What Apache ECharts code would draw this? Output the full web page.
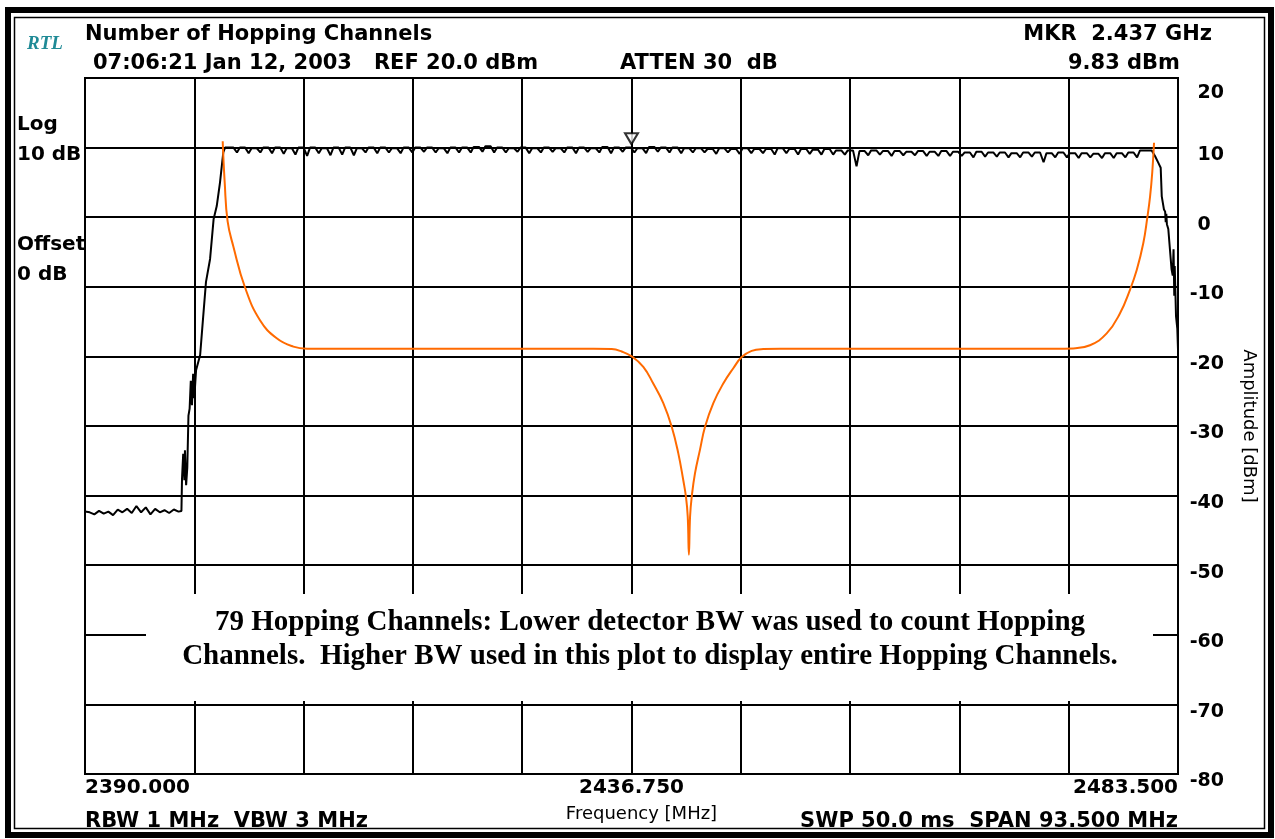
<!DOCTYPE html>
<html>
<head>
<meta charset="utf-8">
<title>Number of Hopping Channels</title>
<script src="https://cdn.jsdelivr.net/npm/echarts@6/dist/echarts.min.js"></script>
<style>
  html, body { margin: 0; padding: 0; background: #ffffff; }
  #chart { width: 1275px; height: 839px; }
</style>
</head>
<body>
<div id="chart"></div>
<script>
// Sweep settings of the analyzer
const START_MHZ = 2390.0;
const STOP_MHZ = 2483.5;
const DIV_MHZ = 9.35;          // span / 10 divisions
const REF_DBM = 20;
const BOTTOM_DBM = -80;
const DB_PER_DIV = 10;

// Noise floor below the band (MHz / dBm)
const floorMHz = [2390.0, 2390.4, 2390.8, 2391.2, 2391.6, 2392.0, 2392.4, 2392.8, 2393.2, 2393.6,
                  2394.0, 2394.4, 2394.8, 2395.2, 2395.6, 2396.0, 2396.4, 2396.8, 2397.2, 2397.6,
                  2398.0, 2398.25];
const floorDbm = [-42.3, -42.4, -42.7, -42.2, -42.6, -42.3, -42.8, -42.0, -42.4, -41.9,
                  -42.5, -41.5, -42.4, -41.7, -42.7, -41.9, -42.4, -42.1, -42.5, -42.0,
                  -42.3, -42.2];

// Lower band edge
const riseMHz = [2398.3, 2398.4, 2398.5, 2398.55, 2398.65, 2398.75, 2398.85, 2398.95, 2399.05, 2399.15,
                 2399.25, 2399.35, 2399.5, 2399.85, 2400.1, 2400.35, 2400.7, 2401.0, 2401.27, 2401.55,
                 2401.83, 2401.98];
const riseDbm = [-37.5, -34.0, -37.8, -33.5, -38.5, -36.0, -28.5, -27.5, -23.5, -27.0,
                 -22.5, -26.0, -22.0, -19.8, -14.5, -9.3, -6.0, -0.3, 1.6, 5.0,
                 9.3, 10.0];

// Notches between the 79 hopping channels (1 MHz grid)
const notchMHz = [2403, 2404, 2405, 2406, 2407, 2408, 2409, 2410, 2411, 2412,
                  2413, 2414, 2415, 2416, 2417, 2418, 2419, 2420, 2421, 2422,
                  2423, 2424, 2425, 2426, 2427, 2428, 2429, 2430, 2431, 2432,
                  2433, 2434, 2435, 2436, 2437, 2438, 2439, 2440, 2441, 2442,
                  2443, 2444, 2445, 2446, 2447, 2448, 2449, 2450, 2451, 2452,
                  2453, 2454, 2455, 2456, 2457, 2458, 2459, 2460, 2461, 2462,
                  2463, 2464, 2465, 2466, 2467, 2468, 2469, 2470, 2471, 2472,
                  2473, 2474, 2475, 2476, 2477, 2478, 2479, 2480];
// Level on each channel (2402 ... 2480 MHz)
const crestDbm = [10.0, 10.0, 9.9, 10.0, 10.0, 9.9, 10.0, 10.0, 9.9, 10.0,
                  10.0, 9.9, 10.0, 10.0, 9.9, 10.0, 10.0, 10.0, 9.9, 10.0,
                  10.0, 10.1, 10.2, 10.0, 9.9, 10.0, 9.9, 10.0, 9.9, 10.0,
                  10.0, 9.9, 10.1, 10.0, 10.0, 9.9, 10.1, 10.0, 10.0, 9.9,
                  9.9, 9.8, 9.9, 9.8, 9.9, 9.8, 9.8, 9.9, 9.8, 9.8,
                  9.7, 9.8, 9.6, 9.6, 9.5, 9.6, 9.5, 9.5, 9.4, 9.5,
                  9.4, 9.5, 9.4, 9.3, 9.4, 9.3, 9.3, 9.2, 9.3, 9.3,
                  9.2, 9.3, 9.2, 9.2, 9.1, 9.2, 9.2, 9.3, 9.6];
// Depth of each notch
const notchDbm = [9.3, 9.2, 9.3, 9.2, 9.1, 9.0, 8.8, 9.2, 8.9, 9.0,
                  8.9, 9.3, 9.2, 9.3, 9.2, 9.3, 9.4, 9.3, 9.2, 9.3,
                  9.3, 9.4, 9.3, 9.3, 9.4, 9.2, 9.3, 9.4, 9.3, 9.2,
                  9.4, 9.3, 9.2, 9.4, 9.3, 9.2, 9.4, 9.3, 9.2, 9.3,
                  9.3, 9.1, 9.3, 9.1, 9.2, 9.2, 9.0, 9.2, 9.0, 9.1,
                  9.0, 9.0, 9.0, 7.3, 8.9, 9.0, 8.8, 8.9, 8.9, 8.8,
                  8.8, 8.8, 8.8, 8.6, 8.7, 8.7, 8.6, 8.6, 8.7, 7.9,
                  8.6, 8.6, 8.5, 8.6, 8.5, 8.5, 8.6, 8.6];

// Upper band edge
const fallMHz = [2481.25, 2481.4, 2481.53, 2481.82, 2482.02, 2482.11, 2482.3, 2482.4, 2482.45, 2482.5,
                 2482.55, 2482.67, 2482.81, 2482.95, 2483.05, 2483.12, 2483.18, 2483.22, 2483.33, 2483.44,
                 2483.5];
const fallDbm = [9.6, 9.4, 8.8, 7.8, 7.1, 3.0, 1.1, 0.8, -0.7, 0.5,
                 -1.0, -1.7, -4.6, -7.5, -8.4, -4.6, -11.3, -7.0, -14.2, -16.0,
                 -19.0];

// Display line (orange)
const limitMHz = [2401.78, 2401.95, 2402.2, 2402.69, 2403.69, 2404.97, 2406.4, 2407.82, 2409.0, 2420.0,
                  2433.5, 2435.06, 2435.91, 2436.77, 2437.76, 2438.61, 2439.47, 2440.19, 2440.75, 2441.18,
                  2441.41, 2441.56, 2441.66, 2441.76, 2441.9, 2442.18, 2442.61, 2443.04, 2443.75, 2444.6,
                  2445.46, 2446.18, 2447.03, 2448.02, 2449.5, 2460.0, 2473.0, 2474.54, 2475.97, 2477.4,
                  2478.54, 2479.4, 2479.97, 2480.53, 2480.88, 2481.11, 2481.3, 2481.45];
const limitDbm = [10.9, 5.0, -0.6, -4.2, -10.1, -14.8, -17.4, -18.6, -18.9, -18.9,
                  -18.9, -18.95, -19.3, -20.0, -21.5, -23.9, -26.7, -30.1, -33.9, -37.8,
                  -40.2, -43.0, -48.5, -43.0, -40.2, -36.8, -33.4, -30.1, -26.7, -23.9,
                  -21.7, -20.1, -19.2, -18.95, -18.9, -18.9, -18.9, -18.85, -18.4, -16.7,
                  -13.8, -10.4, -7.6, -3.75, 0.0, 2.95, 6.5, 10.7];

// Marker readout
const markerMHz = 2436.75;
const markerDbm = 9.83;

// Header / footer annotations
const titleText = 'Number of Hopping Channels';
const stampText = '07:06:21 Jan 12, 2003   REF 20.0 dBm';
const attenText = 'ATTEN 30  dB';
const mkrFreqText = 'MKR  2.437 GHz';
const mkrLevelText = '9.83 dBm';
const bwText = 'RBW 1 MHz  VBW 3 MHz';
const sweepText = 'SWP 50.0 ms  SPAN 93.500 MHz';
const noteText = '79 Hopping Channels: Lower detector BW was used to count Hopping\nChannels.  Higher BW used in this plot to display entire Hopping Channels.';

// ---- build the series (x is offset from start frequency) ----
const toPts = (mhz, dbm) => mhz.map((f, i) => [f - START_MHZ, dbm[i]]);

const trace = [].concat(toPts(floorMHz, floorDbm), toPts(riseMHz, riseDbm));
trace.push([2402.0 - START_MHZ, crestDbm[0]]);
notchMHz.forEach((f, i) => {
  trace.push([f - 0.3 - START_MHZ, crestDbm[i]]);
  trace.push([f - START_MHZ, notchDbm[i]]);
  trace.push([f + 0.25 - START_MHZ, crestDbm[i + 1]]);
});
toPts(fallMHz, fallDbm).forEach(p => trace.push(p));

const limit = toPts(limitMHz, limitDbm);

const SANS = '"DejaVu Sans", sans-serif';
const SERIF = '"Liberation Serif", "Times New Roman", serif';

function label(text, x, y, size, align) {
  return {
    type: 'text', x: x, y: y, z: 40, silent: true,
    style: {
      text: text, fill: '#000', fontFamily: SANS, fontWeight: 'bold', fontSize: size || 21,
      align: align || 'left', verticalAlign: 'middle'
    }
  };
}

const chart = echarts.init(document.getElementById('chart'), null, { renderer: 'canvas' });

chart.setOption({
  animation: false,
  backgroundColor: '#ffffff',
  grid: {
    left: 85, right: 97, top: 78, bottom: 65,
    show: true, borderColor: '#000', borderWidth: 2, backgroundColor: 'transparent'
  },
  xAxis: {
    type: 'value',
    min: 0, max: STOP_MHZ - START_MHZ, interval: DIV_MHZ,
    name: 'Frequency [MHz]',
    nameLocation: 'middle',
    nameGap: 31,
    nameTextStyle: { fontFamily: SANS, fontSize: 18, color: '#000', padding: [0, 0, 0, 20] },
    axisLine: { show: true, lineStyle: { color: '#000', width: 2 } },
    axisTick: { show: false },
    splitLine: { show: true, lineStyle: { color: '#000', width: 2 } },
    axisLabel: {
      margin: 4,
      fontFamily: SANS, fontWeight: 'bold', fontSize: 20, color: '#000',
      alignMinLabel: 'left', alignMaxLabel: 'right',
      formatter: function (v) {
        const k = Math.round(v / DIV_MHZ);
        return k % 5 === 0 ? (START_MHZ + v).toFixed(3) : '';
      }
    }
  },
  yAxis: {
    type: 'value',
    position: 'right',
    min: BOTTOM_DBM, max: REF_DBM, interval: DB_PER_DIV,
    name: 'Amplitude [dBm]',
    nameLocation: 'middle',
    nameRotate: -90,
    nameGap: 62,
    nameTextStyle: { fontFamily: SANS, fontSize: 18, color: '#000' },
    axisLine: { show: true, lineStyle: { color: '#000', width: 2 } },
    axisTick: { show: false },
    splitLine: { show: true, lineStyle: { color: '#000', width: 2 } },
    axisLabel: {
      margin: 46,
      align: 'right',
      padding: [15, 0, 0, 0],
      fontFamily: SANS, fontWeight: 'bold', fontSize: 19, color: '#000',
      formatter: function (v) {
        if (v === REF_DBM) return '{ref|' + v + '}';
        return v === 0 ? '0\u2007' : String(v);
      },
      rich: {
        ref: { fontFamily: SANS, fontWeight: 'bold', fontSize: 19, color: '#000', padding: [16, 0, 0, 0] }
      }
    }
  },
  series: [
    {
      name: 'Trace',
      type: 'line',
      data: trace,
      showSymbol: false,
      lineStyle: { color: '#000', width: 2 },
      z: 3,
      silent: true
    },
    {
      name: 'Display line',
      type: 'line',
      data: limit,
      showSymbol: false,
      smooth: 0.45,
      lineStyle: { color: '#ff6a00', width: 2 },
      z: 4,
      silent: true
    },
    {
      name: 'Marker',
      type: 'scatter',
      data: [[markerMHz - START_MHZ, markerDbm]],
      symbol: 'triangle',
      symbolRotate: 180,
      symbolSize: [13, 11],
      symbolOffset: [0, -10],
      itemStyle: { color: '#ffffff', borderColor: '#000', borderWidth: 2 },
      z: 5,
      silent: true
    }
  ],
  graphic: [
    // instrument frame
    { type: 'rect', z: 50, silent: true, shape: { x: 8, y: 10, width: 1263, height: 825 },
      style: { fill: 'none', stroke: '#000', lineWidth: 6 } },
    { type: 'rect', z: 50, silent: true, shape: { x: 14.5, y: 17.5, width: 1250, height: 811 },
      style: { fill: 'none', stroke: '#000', lineWidth: 1.5 } },

    { type: 'text', x: 27, y: 44, z: 40, silent: true,
      style: { text: 'RTL', fill: '#1f8a96', fontFamily: SERIF, fontStyle: 'italic', fontWeight: 'bold',
               fontSize: 19, align: 'left', verticalAlign: 'middle' } },
    label(titleText, 85, 35),
    label(stampText, 93, 64),
    label(attenText, 620, 64),
    label(mkrFreqText, 1212, 35, 21, 'right'),
    label(mkrLevelText, 1180, 64, 21, 'right'),

    label('Log', 17, 125, 20),
    label('10 dB', 17, 155, 20),
    label('Offset', 17, 245, 20),
    label('0 dB', 17, 275, 20),

    label(bwText, 85, 822),
    label(sweepText, 1178, 822, 21, 'right'),

    // note box over the lower grid
    { type: 'rect', z: 30, silent: true, shape: { x: 146, y: 594, width: 1007, height: 107 },
      style: { fill: '#ffffff' } },
    { type: 'text', x: 650, y: 640, z: 31, silent: true,
      style: { text: noteText, fill: '#000', fontFamily: SERIF, fontWeight: 'bold', fontSize: 29,
               lineHeight: 34, align: 'center', verticalAlign: 'middle' } }
  ]
});
</script>
</body>
</html>
